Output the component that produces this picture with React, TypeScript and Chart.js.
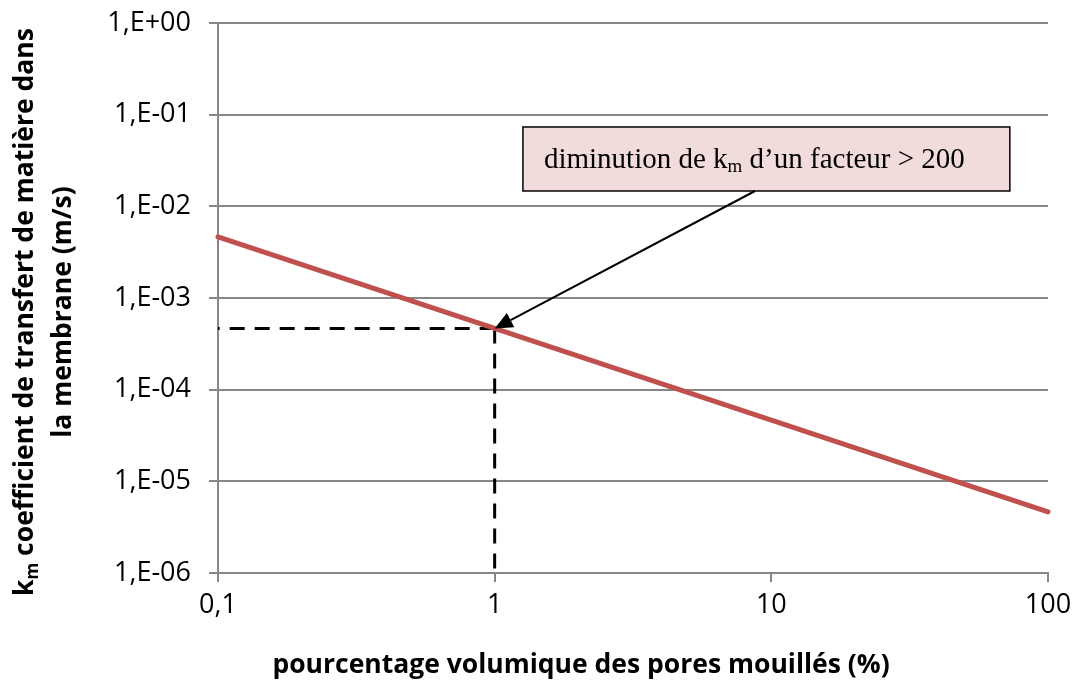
import React, { useEffect, useRef } from "react";
import { Chart, registerables } from "chart.js";

Chart.register(...registerables);

// ---- data ----
const xValues = [0.1, 1, 10, 100];
const kmValues = [4.65e-3, 4.65e-4, 4.65e-5, 4.65e-6];
const refX = 1;
const refY = 4.65e-4;
const xMin = 0.1;
const xMax = 100;
const yMin = 1e-6;
const yMax = 1;
const xTickValues = [0.1, 1, 10, 100];
const xTickLabels = ["0,1", "1", "10", "100"];
const yTickValues = [1, 1e-1, 1e-2, 1e-3, 1e-4, 1e-5, 1e-6];
const yTickLabels = ["1,E+00", "1,E-01", "1,E-02", "1,E-03", "1,E-04", "1,E-05", "1,E-06"];
// annotation box (data coordinates)
const boxX = [1.265, 72.8];
const boxY = [0.0734, 0.0147];
const arrowStartX = 8.73;
const annotationParts = ["diminution de k", "m", " d\u2019un facteur > 200"];
const xTitle = "pourcentage volumique des pores mouillés (%)";
const yTitle1Parts = ["k", "m", " coefficient de transfert de matière dans"];
const yTitle2 = "la membrane (m/s)";

const GRID = "#878787";
const TICK_FONT = { family: "'Open Sans'", size: 27 };
const TITLE_SIZE = 26.5;
const TITLE_FONT = `bold ${TITLE_SIZE}px 'Open Sans'`;

const overlayPlugin = {
  id: "overlay",
  afterDraw(chart: any) {
    const ctx = chart.ctx;
    const xs = chart.scales.x;
    const ys = chart.scales.y;
    ctx.save();
    // x title
    ctx.fillStyle = "#000";
    ctx.font = TITLE_FONT;
    ctx.textAlign = "center";
    ctx.textBaseline = "middle";
    ctx.fillText(xTitle, 581, 665);

    const measure = (parts: string[], size: number, family: string, bold: boolean) => {
      const main = `${bold ? "bold " : ""}${size}px ${family}`;
      const sub = `${bold ? "bold " : ""}${Math.round(size * 0.65)}px ${family}`;
      ctx.font = main;
      const w0 = ctx.measureText(parts[0]).width;
      const w2 = ctx.measureText(parts[2]).width;
      ctx.font = sub;
      const w1 = ctx.measureText(parts[1]).width;
      return { main, sub, w0, w1, w2, total: w0 + w1 + w2 };
    };

    // y title line 1 (rotated, with subscript)
    ctx.save();
    ctx.translate(24, 312);
    ctx.rotate(-Math.PI / 2);
    const m = measure(yTitle1Parts, TITLE_SIZE, "'Open Sans'", true);
    ctx.textAlign = "left";
    ctx.textBaseline = "alphabetic";
    let sx = -m.total / 2;
    const base = 9;
    ctx.font = m.main;
    ctx.fillText(yTitle1Parts[0], sx, base);
    sx += m.w0;
    ctx.font = m.sub;
    ctx.fillText(yTitle1Parts[1], sx, base + 5);
    sx += m.w1;
    ctx.font = m.main;
    ctx.fillText(yTitle1Parts[2], sx, base);
    ctx.restore();

    // y title line 2
    ctx.save();
    ctx.translate(63, 312);
    ctx.rotate(-Math.PI / 2);
    ctx.font = TITLE_FONT;
    ctx.textAlign = "center";
    ctx.textBaseline = "middle";
    ctx.fillText(yTitle2, 0, 0);
    ctx.restore();

    // annotation box
    const bx0 = xs.getPixelForValue(boxX[0]);
    const bx1 = xs.getPixelForValue(boxX[1]);
    const by0 = ys.getPixelForValue(boxY[0]);
    const by1 = ys.getPixelForValue(boxY[1]);
    ctx.fillStyle = "#F2DCDB";
    ctx.fillRect(bx0, by0, bx1 - bx0, by1 - by0);
    ctx.strokeStyle = "#000";
    ctx.lineWidth = 1.5;
    ctx.strokeRect(bx0, by0, bx1 - bx0, by1 - by0);

    const a = measure(annotationParts, 29, "'Liberation Serif'", false);
    ctx.fillStyle = "#000";
    ctx.textAlign = "left";
    ctx.textBaseline = "alphabetic";
    let ax = bx0 + 21;
    const ay = (by0 + by1) / 2 + 9;
    ctx.font = a.main;
    ctx.fillText(annotationParts[0], ax, ay);
    ax += a.w0;
    ctx.font = a.sub;
    ctx.fillText(annotationParts[1], ax, ay + 4);
    ax += a.w1;
    ctx.font = a.main;
    ctx.fillText(annotationParts[2], ax, ay);

    // arrow
    const sxp = xs.getPixelForValue(arrowStartX);
    const syp = by1;
    const tx = xs.getPixelForValue(refX);
    const ty = ys.getPixelForValue(refY);
    const ang = Math.atan2(ty - syp, tx - sxp);
    const headLen = 18;
    const headW = 8;
    const bxp = tx - headLen * Math.cos(ang);
    const byp = ty - headLen * Math.sin(ang);
    ctx.strokeStyle = "#000";
    ctx.lineWidth = 2;
    ctx.beginPath();
    ctx.moveTo(sxp, syp);
    ctx.lineTo(bxp, byp);
    ctx.stroke();
    ctx.beginPath();
    ctx.moveTo(tx, ty);
    ctx.lineTo(bxp + headW * Math.sin(ang), byp - headW * Math.cos(ang));
    ctx.lineTo(bxp - headW * Math.sin(ang), byp + headW * Math.cos(ang));
    ctx.closePath();
    ctx.fillStyle = "#000";
    ctx.fill();
    ctx.restore();
  },
};

export default function App() {
  const ref = useRef<HTMLCanvasElement | null>(null);
  useEffect(() => {
    if (!ref.current) return;
    const chart = new Chart(ref.current, {
      type: "line",
      data: {
        datasets: [
          {
            data: xValues.map((x, i) => ({ x, y: kmValues[i] })),
            borderColor: "#C0504D",
            borderWidth: 5,
            pointRadius: 0,
            borderCapStyle: "round",
            clip: false as any,
          },
          {
            data: [
              { x: refX, y: refY },
              { x: xMin, y: refY },
            ],
            borderColor: "#000",
            borderWidth: 3,
            borderDash: [15, 10],
            pointRadius: 0,
          },
          {
            data: [
              { x: refX, y: refY },
              { x: refX, y: yMin },
            ],
            borderColor: "#000",
            borderWidth: 3,
            borderDash: [15, 10],
            pointRadius: 0,
          },
        ],
      },
      options: {
        animation: false,
        responsive: false,
        layout: { padding: { top: 23, right: 27, left: 0, bottom: 0 } },
        plugins: { legend: { display: false }, tooltip: { enabled: false } },
        scales: {
          x: {
            type: "logarithmic",
            min: xMin,
            max: xMax,
            position: "bottom",
            afterBuildTicks: (s: any) => {
              s.ticks = xTickValues.map((v) => ({ value: v }));
            },
            afterFit: (s: any) => {
              s.height = 122;
              s.paddingLeft = 0;
              s.paddingRight = 0;
            },
            grid: { drawOnChartArea: false, tickLength: 9, color: GRID, lineWidth: 2 },
            border: { color: GRID, width: 2 },
            ticks: {
              font: TICK_FONT,
              color: "#000",
              padding: 7,
              maxRotation: 0,
              autoSkip: false,
              callback: (v: any) => {
                const i = xTickValues.findIndex((t) => Math.abs(t - v) < 1e-9);
                return i >= 0 ? xTickLabels[i] : "";
              },
            },
          },
          y: {
            type: "logarithmic",
            min: yMin,
            max: yMax,
            afterBuildTicks: (s: any) => {
              s.ticks = yTickValues.map((v) => ({ value: v }));
            },
            afterFit: (s: any) => {
              s.width = 218;
              s.paddingTop = 0;
              s.paddingBottom = 0;
            },
            grid: { tickLength: 9, color: GRID, lineWidth: 2 },
            border: { color: GRID, width: 2 },
            ticks: {
              font: TICK_FONT,
              color: "#000",
              padding: 18,
              autoSkip: false,
              callback: (v: any) => {
                const i = yTickValues.findIndex((t) => Math.abs(Math.log10(t) - Math.log10(v)) < 1e-6);
                return i >= 0 ? yTickLabels[i] : "";
              },
            },
          },
        },
      },
      plugins: [overlayPlugin],
    } as any);
    return () => chart.destroy();
  }, []);
  return (
    <div style={{ position: "absolute", left: 0, top: 0, width: 1075, height: 695, background: "#fff" }}>
      <canvas ref={ref} width={1075} height={695} />
    </div>
  );
}
